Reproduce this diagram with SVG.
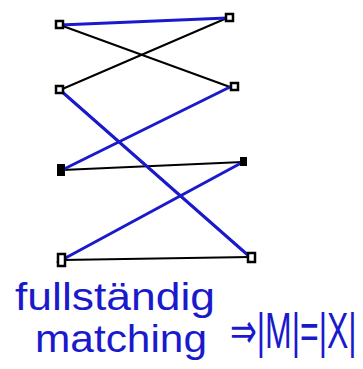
<svg xmlns="http://www.w3.org/2000/svg" width="363" height="369" viewBox="0 0 363 369">
<style>
.blk{stroke:#000;stroke-width:2;fill:none;stroke-linecap:round}
.blu{stroke:#1a1acc;stroke-width:3;fill:none;stroke-linecap:round}
.node{fill:#fff;stroke:#000;stroke-width:2.5}
.txt{font-family:"Liberation Sans",Arial,sans-serif;fill:#1a1acc}
</style>
<rect width="363" height="369" fill="#fff"/>
<g id="connectors">
<line class="blk" x1="60" y1="25" x2="230" y2="87"/>
<line class="blk" x1="60" y1="90" x2="227" y2="18"/>
<line class="blk" x1="60" y1="90" x2="250" y2="257"/>
<line class="blk" x1="62" y1="170" x2="243" y2="162"/>
<line class="blk" x1="62" y1="260" x2="250" y2="257"/>
<line class="blu" x1="60" y1="25" x2="227" y2="18"/>
<line class="blu" x1="60" y1="90" x2="250" y2="257"/>
<line class="blu" x1="62" y1="170" x2="230" y2="87"/>
<line class="blu" x1="58" y1="262" x2="243" y2="162"/>
</g>
<g id="L1"><rect class="node" x="56" y="21" width="7" height="7"/></g>
<g id="L2"><rect class="node" x="56" y="86" width="7" height="7"/></g>
<g id="L3"><rect x="57" y="164" width="8" height="12" fill="#000"/></g>
<g id="L4"><rect class="node" x="58" y="254" width="7" height="12"/></g>
<g id="R1"><rect class="node" x="226" y="14" width="7" height="7"/></g>
<g id="R2"><rect class="node" x="231" y="83" width="7" height="7"/></g>
<g id="R3"><rect x="240" y="157" width="7" height="9" fill="#000"/></g>
<g id="R4"><rect class="node" x="248" y="253" width="7" height="9"/></g>
<g id="label">
<text class="txt" x="15" y="310" font-size="38" textLength="200" lengthAdjust="spacingAndGlyphs">fullständig</text>
<text class="txt" x="35" y="352" font-size="38" textLength="172" lengthAdjust="spacingAndGlyphs">matching</text>
<text class="txt" font-size="50" transform="translate(230,348) scale(0.64,1)">⇒|M|=|X|</text>
</g>
</svg>
